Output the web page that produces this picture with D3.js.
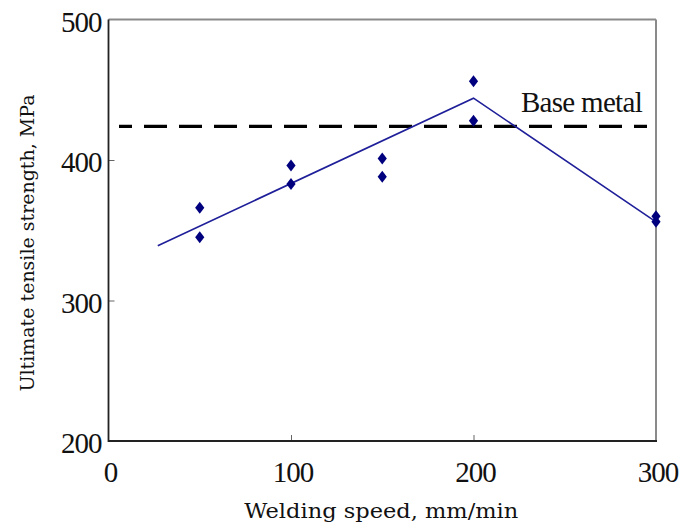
<!DOCTYPE html>
<html>
<head>
<meta charset="utf-8">
<script src="https://cdn.jsdelivr.net/npm/d3@7"></script>
<style>
  html, body { margin: 0; padding: 0; background: #fff; }
  svg { display: block; }
</style>
</head>
<body>
<svg id="chart" width="695" height="524"></svg>
<script>
// Welding speed (mm/min) and measured ultimate tensile strength (MPa)
const speeds = [50, 50, 100, 100, 150, 150, 200, 200, 300, 300];
const strengths = [366, 345, 396, 383, 401, 388, 456, 428, 360, 356];

// Trend line through the measurements
const trendSpeeds = [27, 200, 300];
const trendStrengths = [339, 444, 356];

// Base metal reference strength
const baseMetal = 424;
const baseLabel = "Base metal";

const xTicks = [0, 100, 200, 300];
const yTicks = [200, 300, 400, 500];
const xTitle = "Welding speed, mm/min";
const yTitle = "Ultimate tensile strength, MPa";

const svg = d3.select("#chart");
const plotL = 108.5, plotR = 656, plotT = 19.5, plotB = 441;

const x = d3.scaleLinear().domain([0, 300]).range([plotL, plotR]);
const y = d3.scaleLinear().domain([200, 500]).range([plotB, plotT]);

// Frame: top and right edges grey, left and bottom black
svg.append("line").attr("x1", plotL).attr("x2", plotR).attr("y1", plotT).attr("y2", plotT)
  .attr("stroke", "#8a8a8a").attr("stroke-width", 2);
svg.append("line").attr("x1", plotR).attr("x2", plotR).attr("y1", plotT).attr("y2", plotB)
  .attr("stroke", "#8a8a8a").attr("stroke-width", 2);

// Inward tick marks
const yAxis = d3.axisLeft(y).tickValues(yTicks.slice(1, -1)).tickSize(-6).tickFormat("");
const gy = svg.append("g").attr("transform", `translate(${plotL},0)`).call(yAxis);
gy.select(".domain").remove();
gy.selectAll(".tick line").attr("stroke", "#666").attr("stroke-width", 1);

const xAxis = d3.axisBottom(x).tickValues(xTicks.slice(1, -1)).tickSize(-6).tickFormat("");
const gx = svg.append("g").attr("transform", `translate(0,${plotB})`).call(xAxis);
gx.select(".domain").remove();
gx.selectAll(".tick line").attr("stroke", "#666").attr("stroke-width", 1);

svg.append("line").attr("x1", plotL).attr("x2", plotL).attr("y1", plotT).attr("y2", plotB + 1)
  .attr("stroke", "#222").attr("stroke-width", 1.8);
svg.append("line").attr("x1", plotL).attr("x2", plotR + 1).attr("y1", plotB).attr("y2", plotB)
  .attr("stroke", "#222").attr("stroke-width", 1.8);

// Tick labels
svg.selectAll(".ylab").data(yTicks).join("text")
  .attr("class", "ylab")
  .attr("x", plotL - 7)
  .attr("y", d => y(d) + 12)
  .attr("text-anchor", "end")
  .attr("font-family", "Liberation Serif, serif")
  .attr("font-size", 29)
  .attr("letter-spacing", -1)
  .attr("fill", "#111")
  .text(d => d);

svg.selectAll(".xlab").data(xTicks).join("text")
  .attr("class", "xlab")
  .attr("x", d => x(d) + 2)
  .attr("y", plotB + 41)
  .attr("text-anchor", "middle")
  .attr("font-family", "Liberation Serif, serif")
  .attr("font-size", 29)
  .attr("letter-spacing", -1)
  .attr("fill", "#111")
  .text(d => d);

// Axis titles
svg.append("text")
  .attr("x", (plotL + plotR) / 2 - 1)
  .attr("y", 518)
  .attr("text-anchor", "middle")
  .attr("font-family", "DejaVu Serif, serif")
  .attr("font-size", 20)
  .attr("textLength", 274)
  .attr("lengthAdjust", "spacingAndGlyphs")
  .attr("fill", "#111")
  .text(xTitle);

svg.append("text")
  .attr("transform", "translate(34,243) rotate(-90)")
  .attr("text-anchor", "middle")
  .attr("font-family", "DejaVu Serif, serif")
  .attr("font-size", 19)
  .attr("textLength", 297)
  .attr("lengthAdjust", "spacingAndGlyphs")
  .attr("fill", "#111")
  .text(yTitle);

// Base metal dashed reference line
svg.append("line")
  .attr("x1", 119).attr("x2", 647)
  .attr("y1", y(baseMetal)).attr("y2", y(baseMetal))
  .attr("stroke", "#000").attr("stroke-width", 3.2)
  .attr("stroke-dasharray", "23,12").attr("stroke-dashoffset", 10);

svg.append("text")
  .attr("x", 642).attr("y", 112)
  .attr("text-anchor", "end")
  .attr("font-family", "Liberation Serif, serif")
  .attr("font-size", 29)
  .attr("letter-spacing", -0.7)
  .attr("fill", "#111")
  .text(baseLabel);

// Trend line
const trend = trendSpeeds.map((s, i) => [s, trendStrengths[i]]);
svg.append("path")
  .datum(trend)
  .attr("d", d3.line().x(d => x(d[0])).y(d => y(d[1])))
  .attr("fill", "none").attr("stroke", "#1f1f99").attr("stroke-width", 1.6);

// Measured points as diamonds
const pts = speeds.map((s, i) => [s, strengths[i]]);
svg.selectAll(".pt").data(pts).join("path")
  .attr("class", "pt")
  .attr("transform", d => `translate(${x(d[0])},${y(d[1])})`)
  .attr("d", "M0,-6L4.6,0L0,6L-4.6,0Z")
  .attr("fill", "#00007f");
</script>
</body>
</html>
